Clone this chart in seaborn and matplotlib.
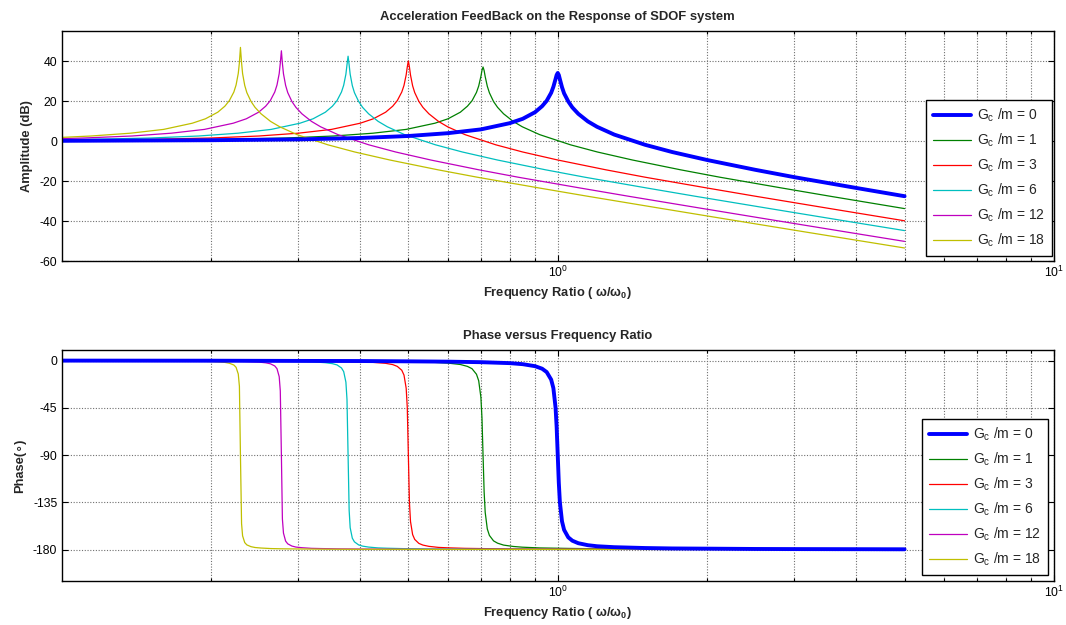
import matplotlib
matplotlib.use("Agg")
import matplotlib.pyplot as plt
import numpy as np
import pandas as pd
import seaborn as sns
from matplotlib.ticker import FixedLocator, NullFormatter, FixedFormatter

# ---------------- data ----------------
gains = [0, 1, 3, 6, 12, 18]
labels = ["G$_c$ /m = %d" % g for g in gains]
colors = ["#0000FF", "#008000", "#FF0000", "#00BFBF", "#BF00BF", "#BFBF00"]

# G/m = 0
r_g0 = [0.1, 0.2, 0.3, 0.4, 0.5, 0.6, 0.7, 0.8, 0.85, 0.9, 0.93, 0.95, 0.97, 0.98, 0.99, 0.995,
        1.0, 1.005, 1.01, 1.02, 1.03, 1.05, 1.07, 1.1, 1.15, 1.2, 1.3, 1.5, 1.7, 2.0, 2.5, 3.0, 4.0, 5.0]
amp_g0 = [0.1, 0.4, 0.8, 1.5, 2.5, 3.9, 5.8, 8.9, 11.1, 14.4, 17.4, 20.1, 24.1, 27.1, 31.0, 33.0,
          34.0, 33.0, 30.9, 26.9, 23.8, 19.8, 16.8, 13.6, 9.8, 7.1, 3.2, -1.9, -5.5, -9.5, -14.4, -18.1, -23.5, -27.6]
ph_g0 = [-0.1, -0.2, -0.4, -0.5, -0.8, -1.1, -1.6, -2.5, -3.5, -5.4, -7.8, -11.0, -18.2, -26.3, -44.9, -63.4,
         -90.0, -116.5, -134.9, -153.2, -161.3, -168.4, -171.6, -174.0, -175.9, -176.9, -177.8, -178.6, -179.0,
         -179.2, -179.5, -179.6, -179.7, -179.8]

# G/m = 1
r_g1 = [0.1, 0.1414, 0.2121, 0.2828, 0.3536, 0.4243, 0.495, 0.5657, 0.601, 0.6364, 0.6576, 0.6718, 0.6859,
        0.693, 0.7001, 0.7036, 0.7071, 0.7107, 0.7142, 0.7212, 0.7283, 0.7425, 0.7566, 0.7778, 0.8132, 0.8485,
        0.9192, 1.0607, 1.2021, 1.4142, 1.7678, 2.1213, 2.8284, 3.5355, 5.0]
amp_g1 = [0.2, 0.4, 0.8, 1.5, 2.5, 3.9, 5.8, 8.9, 11.1, 14.4, 17.4, 20.1, 24.3, 27.5, 32.3, 35.3, 37.0, 35.2,
          32.2, 27.4, 24.1, 19.7, 16.8, 13.6, 9.8, 7.1, 3.2, -1.9, -5.5, -9.5, -14.4, -18.1, -23.5, -27.6, -33.8]
ph_g1 = [-0.1, -0.2, -0.3, -0.4, -0.5, -0.8, -1.1, -1.8, -2.5, -3.8, -5.6, -7.8, -13.1, -19.3, -35.1, -54.7,
         -90.0, -125.2, -144.6, -160.4, -166.6, -171.8, -174.0, -175.8, -177.1, -177.8, -178.5, -179.0, -179.3,
         -179.5, -179.6, -179.7, -179.8, -179.8, -179.9]

# G/m = 3
r_g3 = [0.1, 0.15, 0.2, 0.25, 0.3, 0.35, 0.4, 0.425, 0.45, 0.465, 0.475, 0.485, 0.49, 0.495, 0.4975, 0.5,
        0.5025, 0.505, 0.51, 0.515, 0.525, 0.535, 0.55, 0.575, 0.6, 0.65, 0.75, 0.85, 1.0, 1.25, 1.5, 2.0,
        2.5, 3.5, 5.0]
amp_g3 = [0.4, 0.8, 1.5, 2.5, 3.9, 5.8, 8.9, 11.1, 14.4, 17.4, 20.2, 24.5, 27.8, 33.1, 37.0, 40.0, 37.0, 33.0,
          27.6, 24.2, 19.8, 16.8, 13.6, 9.8, 7.1, 3.2, -1.9, -5.5, -9.5, -14.4, -18.1, -23.5, -27.6, -33.6, -39.9]
ph_g3 = [-0.1, -0.2, -0.3, -0.4, -0.5, -0.8, -1.3, -1.8, -2.7, -3.9, -5.6, -9.3, -13.9, -26.5, -44.9, -90.0,
         -134.9, -153.3, -165.8, -170.4, -174.2, -175.8, -177.0, -178.0, -178.4, -178.9, -179.3, -179.5,
         -179.6, -179.7, -179.8, -179.8, -179.9, -179.9, -179.9]

# G/m = 6
r_g6 = [0.1, 0.1134, 0.1512, 0.189, 0.2268, 0.2646, 0.3024, 0.3213, 0.3402, 0.3515, 0.3591, 0.3666, 0.3704,
        0.3742, 0.3761, 0.378, 0.3799, 0.3817, 0.3855, 0.3893, 0.3969, 0.4044, 0.4158, 0.4347, 0.4536, 0.4913,
        0.5669, 0.6425, 0.7559, 0.9449, 1.1339, 1.5119, 1.8898, 2.6458, 3.7796, 5.0]
amp_g6 = [0.6, 0.8, 1.5, 2.5, 3.9, 5.8, 8.9, 11.1, 14.4, 17.4, 20.2, 24.5, 27.9, 33.4, 38.1, 42.4, 38.0, 33.4,
          27.7, 24.2, 19.8, 16.8, 13.6, 9.8, 7.1, 3.2, -1.9, -5.5, -9.5, -14.4, -18.1, -23.5, -27.6, -33.6,
          -39.9, -44.8]
ph_g6 = [-0.1, -0.1, -0.2, -0.3, -0.4, -0.6, -1.0, -1.3, -2.1, -3.0, -4.2, -7.1, -10.6, -20.6, -37.0, -90.0,
         -142.8, -159.2, -169.2, -172.7, -175.6, -176.8, -177.7, -178.5, -178.8, -179.2, -179.5, -179.6,
         -179.7, -179.8, -179.8, -179.9, -179.9, -179.9, -179.9, -179.9]

# G/m = 12
r_g12 = [0.1, 0.1109, 0.1387, 0.1664, 0.1941, 0.2219, 0.2357, 0.2496, 0.2579, 0.2635, 0.269, 0.2718, 0.2746,
         0.276, 0.2774, 0.2787, 0.2801, 0.2829, 0.2857, 0.2912, 0.2968, 0.3051, 0.319, 0.3328, 0.3606, 0.416,
         0.4715, 0.5547, 0.6934, 0.8321, 1.1094, 1.3868, 1.9415, 2.7735, 3.8829, 5.0]
amp_g12 = [1.2, 1.5, 2.5, 3.9, 5.8, 8.9, 11.1, 14.4, 17.4, 20.2, 24.5, 28.0, 33.7, 38.9, 45.1, 38.8, 33.6, 27.8,
           24.2, 19.8, 16.8, 13.6, 9.8, 7.1, 3.2, -1.9, -5.5, -9.5, -14.4, -18.1, -23.5, -27.6, -33.6, -39.9,
           -45.8, -50.2]
ph_g12 = [-0.1, -0.2, -0.2, -0.3, -0.4, -0.7, -1.0, -1.5, -2.2, -3.1, -5.2, -7.8, -15.4, -29.0, -90.0, -150.9,
          -164.4, -172.0, -174.6, -176.7, -177.7, -178.3, -178.9, -179.1, -179.4, -179.6, -179.7, -179.8,
          -179.8, -179.9, -179.9, -179.9, -179.9, -179.9, -179.9, -179.9]

# G/m = 18
r_g18 = [0.1, 0.1147, 0.1377, 0.1606, 0.1835, 0.195, 0.2065, 0.2134, 0.2179, 0.2225, 0.2248, 0.2271, 0.2283,
         0.2294, 0.2306, 0.2317, 0.234, 0.2363, 0.2409, 0.2455, 0.2524, 0.2638, 0.2753, 0.2982, 0.3441, 0.39,
         0.4588, 0.5735, 0.6882, 0.9177, 1.1471, 1.6059, 2.2942, 3.2119, 5.0]
amp_g18 = [1.8, 2.5, 3.9, 5.8, 8.9, 11.1, 14.4, 17.4, 20.2, 24.5, 28.0, 33.8, 39.2, 46.8, 39.1, 33.7, 27.8, 24.2,
           19.8, 16.8, 13.6, 9.8, 7.1, 3.2, -1.9, -5.5, -9.5, -14.4, -18.1, -23.5, -27.6, -33.6, -39.9, -45.8,
           -53.5]
ph_g18 = [-0.1, -0.2, -0.3, -0.4, -0.6, -0.8, -1.3, -1.8, -2.6, -4.3, -6.5, -12.9, -24.6, -90.0, -155.3,
          -167.0, -173.4, -175.6, -177.3, -178.1, -178.6, -179.1, -179.3, -179.5, -179.7, -179.8, -179.8,
          -179.9, -179.9, -179.9, -179.9, -179.9, -179.9, -179.9, -179.9]

r_all = [r_g0, r_g1, r_g3, r_g6, r_g12, r_g18]
amp_all = [amp_g0, amp_g1, amp_g3, amp_g6, amp_g12, amp_g18]
ph_all = [ph_g0, ph_g1, ph_g3, ph_g6, ph_g12, ph_g18]

amp_ticks = [-60, -40, -20, 0, 20, 40]
ph_ticks = [-180, -135, -90, -45, 0]

# ---------------- style ----------------
sns.set_theme(style="white")
plt.rcParams["font.family"] = ["Liberation Sans", "DejaVu Sans"]
plt.rcParams["mathtext.fontset"] = "custom"
plt.rcParams["mathtext.rm"] = "Liberation Sans"
plt.rcParams["mathtext.it"] = "Liberation Sans:italic"
plt.rcParams["mathtext.bf"] = "Liberation Sans:bold"
plt.rcParams["mathtext.default"] = "regular"
plt.rcParams["axes.unicode_minus"] = False

fig = plt.figure(figsize=(10.66, 6.25), dpi=100)
ax1 = fig.add_axes([0.0577, 0.5824, 0.9310, 0.3680])
ax2 = fig.add_axes([0.0577, 0.0704, 0.9310, 0.3696])

widths = [2.8, 0.9, 0.9, 0.9, 0.9, 0.9]
draw_order = [1, 2, 3, 4, 5, 0]

for ax, vals in ((ax1, amp_all), (ax2, ph_all)):
    handles = {}
    for i in draw_order:
        df = pd.DataFrame({"r": r_all[i], "v": vals[i]})
        sns.lineplot(data=df, x="r", y="v", ax=ax, color=colors[i], linewidth=widths[i],
                     estimator=None, sort=False, label=labels[i])
        handles[i] = ax.lines[-1]
    ax.set_xscale("log")
    ax.set_xlim(0.1, 10)
    ax.xaxis.set_major_locator(FixedLocator([1, 10]))
    ax.xaxis.set_major_formatter(FixedFormatter(["$10^{0}$", "$10^{1}$"]))
    minors = [0.2, 0.3, 0.4, 0.5, 0.6, 0.7, 0.8, 0.9, 2, 3, 4, 5, 6, 7, 8, 9]
    ax.xaxis.set_minor_locator(FixedLocator(minors))
    ax.xaxis.set_minor_formatter(NullFormatter())
    ax.set_axisbelow(True)
    ax.grid(True, which="both", axis="x", linestyle=(0, (1, 1.5)), color="#707070", linewidth=0.8)
    ax.grid(True, which="major", axis="y", linestyle=(0, (1, 1.5)), color="#707070", linewidth=0.8)
    ax.tick_params(which="both", direction="in", top=True, right=True, bottom=True, left=True,
                   labelsize=8.8, colors="black", pad=3)
    ax.tick_params(which="major", length=4, width=0.8)
    ax.tick_params(which="minor", length=2.5, width=0.8)
    for s in ax.spines.values():
        s.set_color("black")
        s.set_linewidth(1.0)
    ax.set_xlabel("Frequency Ratio ( ω/ω$_\\mathbf{0}$)", fontsize=9.3, fontweight="bold", labelpad=3)
    leg_handles = [handles[i] for i in range(6)]
    if ax is ax1:
        anchor = (0.9865, 0.5904)
    else:
        anchor = (0.9830, 0.0800)
    leg = ax.legend(leg_handles, labels, loc="lower right", bbox_to_anchor=anchor,
                    bbox_transform=fig.transFigure, frameon=True, fancybox=False, framealpha=1,
                    edgecolor="black", fontsize=10, handlelength=2.75, handletextpad=0.4,
                    labelspacing=0.55, borderpad=0.5, borderaxespad=0)
    leg.get_frame().set_linewidth(1.0)

ax1.set_ylim(-60, 55)
ax1.set_yticks(amp_ticks)
ax1.set_ylabel("Amplitude (dB)", fontsize=9.3, fontweight="bold", labelpad=5)
ax1.set_title("Acceleration FeedBack on the Response of SDOF system", fontsize=9.4,
              fontweight="bold", pad=8)

ax2.set_ylim(-210, 10)
ax2.set_yticks(ph_ticks)
ax2.set_ylabel("Phase(∘)", fontsize=9.3, fontweight="bold", labelpad=5)
ax2.set_title("Phase versus Frequency Ratio", fontsize=9.4, fontweight="bold", pad=8)

fig.savefig("out.png", dpi=100, facecolor="white")
